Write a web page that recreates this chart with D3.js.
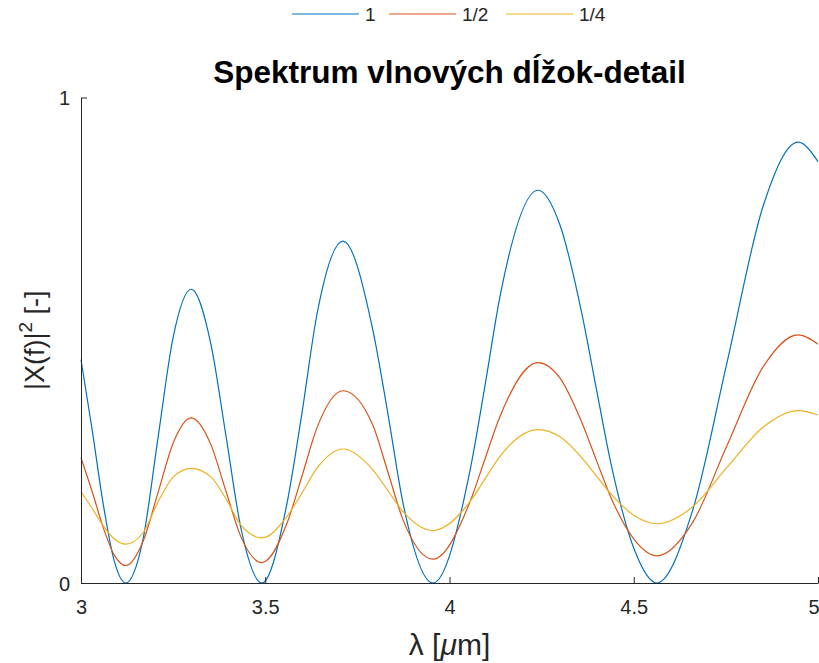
<!DOCTYPE html>
<html>
<head>
<meta charset="utf-8">
<script src="https://cdn.jsdelivr.net/npm/d3@7"></script>
<style>
  body { margin: 0; background: #fff; }
  text { font-family: "Liberation Sans", Arial, Helvetica, sans-serif; fill: #262626; }
</style>
</head>
<body>
<div id="chart"></div>
<script>
// wavelength samples [um]
const lambda = [3.000, 3.030, 3.060, 3.090, 3.121, 3.168, 3.209, 3.250, 3.299,
  3.353, 3.393, 3.434, 3.491, 3.559, 3.600, 3.640, 3.711, 3.792, 3.833, 3.874, 3.955,
  4.056, 4.096, 4.137, 4.240, 4.300, 4.360, 4.400, 4.441, 4.503, 4.563,
  4.660, 4.753, 4.851, 4.946, 5.000];

// |X(f)|^2
const s1 = [0.460, 0.317, 0.164, 0.046, 0.000, 0.089, 0.299, 0.506, 0.605,
  0.490, 0.305, 0.113, 0.000, 0.164, 0.352, 0.552, 0.704, 0.521, 0.348, 0.164, 0.000,
  0.233, 0.405, 0.590, 0.809, 0.737, 0.552, 0.394, 0.236, 0.066, 0.000,
  0.150, 0.454, 0.776, 0.908, 0.868];
const s2 = [0.258, 0.189, 0.115, 0.058, 0.036, 0.085, 0.186, 0.288, 0.340,
  0.284, 0.190, 0.095, 0.042, 0.123, 0.221, 0.319, 0.396, 0.325, 0.228, 0.130, 0.049,
  0.168, 0.255, 0.343, 0.454, 0.422, 0.329, 0.250, 0.171, 0.088, 0.056,
  0.125, 0.283, 0.445, 0.511, 0.492];
const s4 = [0.188, 0.154, 0.118, 0.091, 0.080, 0.103, 0.167, 0.218, 0.236,
  0.218, 0.174, 0.119, 0.093, 0.137, 0.186, 0.236, 0.276, 0.233, 0.190, 0.147, 0.108,
  0.168, 0.214, 0.261, 0.316, 0.301, 0.257, 0.219, 0.181, 0.138, 0.122,
  0.157, 0.238, 0.321, 0.355, 0.346];

const seriesNames = ["1", "1/2", "1/4"];
const seriesValues = [s1, s2, s4];
const colors = ["#0072BD", "#D95319", "#EDB120"];
const xTicks = [3, 3.5, 4, 4.5, 5];
const yTicks = [0, 1];

const W = 819, H = 663;
const margin = { left: 81, right: 818, top: 97.5, bottom: 583 };

const svg = d3.select("#chart").append("svg")
  .attr("width", W).attr("height", H);

const x = d3.scaleLinear().domain([3, 5]).range([margin.left, margin.right]);
const y = d3.scaleLinear().domain([0, 1]).range([margin.bottom, margin.top]);

// lines
const line = d3.line()
  .x(d => x(d[0]))
  .y(d => y(d[1]))
  .curve(d3.curveMonotoneX);

seriesValues.forEach((vals, i) => {
  svg.append("path")
    .datum(lambda.map((l, j) => [l, vals[j]]))
    .attr("d", line)
    .attr("fill", "none")
    .attr("stroke", colors[i])
    .attr("stroke-width", 1.2);
});

// axes, ticks inside like matlab
const xAxis = svg.append("g")
  .attr("transform", `translate(0,${margin.bottom})`)
  .call(d3.axisBottom(x).tickValues(xTicks).tickSizeInner(-6).tickSizeOuter(0)
    .tickFormat(d3.format("")));
const yAxis = svg.append("g")
  .attr("transform", `translate(${margin.left},0)`)
  .call(d3.axisLeft(y).tickValues(yTicks).tickSizeInner(-6).tickSizeOuter(0)
    .tickFormat(d3.format("")));

[xAxis, yAxis].forEach(g => {
  g.select(".domain").attr("stroke", "#262626").attr("stroke-width", 1);
  g.selectAll(".tick line").attr("stroke", "#262626");
  g.selectAll(".tick text").attr("font-size", 20).attr("fill", "#262626")
    .style("font-family", '"Liberation Sans", Arial, sans-serif');
});
xAxis.selectAll(".tick text").attr("y", 31).attr("dy", 0)
  .filter(d => d === 5).attr("text-anchor", "end").attr("x", 1);
yAxis.selectAll(".tick text").attr("x", -11).attr("dy", "0.36em");

// title
svg.append("text")
  .attr("x", (margin.left + margin.right) / 2).attr("y", 83)
  .attr("text-anchor", "middle")
  .attr("font-size", 31.5).attr("font-weight", "bold")
  .style("fill", "#000")
  .text("Spektrum vlnových dĺžok-detail");

// x label
const xl = svg.append("text")
  .attr("x", (margin.left + margin.right) / 2).attr("y", 655)
  .attr("text-anchor", "middle")
  .attr("font-size", 30);
xl.append("tspan").text("λ [");
xl.append("tspan").attr("font-style", "italic").text("μ");
xl.append("tspan").text("m]");

// y label
const yl = svg.append("text")
  .attr("transform", `translate(44,${(margin.top + margin.bottom) / 2}) rotate(-90)`)
  .attr("text-anchor", "middle")
  .attr("font-size", 27);
yl.append("tspan").text("|X(f)|");
yl.append("tspan").attr("font-size", 19).attr("dy", -12).text("2");
yl.append("tspan").attr("dy", 12).text(" [-]");

// legend
const legX = [292, 389, 506];
seriesNames.forEach((n, i) => {
  svg.append("line")
    .attr("x1", legX[i]).attr("x2", legX[i] + 67)
    .attr("y1", 14).attr("y2", 14)
    .attr("stroke", colors[i]).attr("stroke-width", 1.2);
  svg.append("text")
    .attr("x", legX[i] + 73).attr("y", 21)
    .attr("font-size", 19)
    .text(n);
});
</script>
</body>
</html>
